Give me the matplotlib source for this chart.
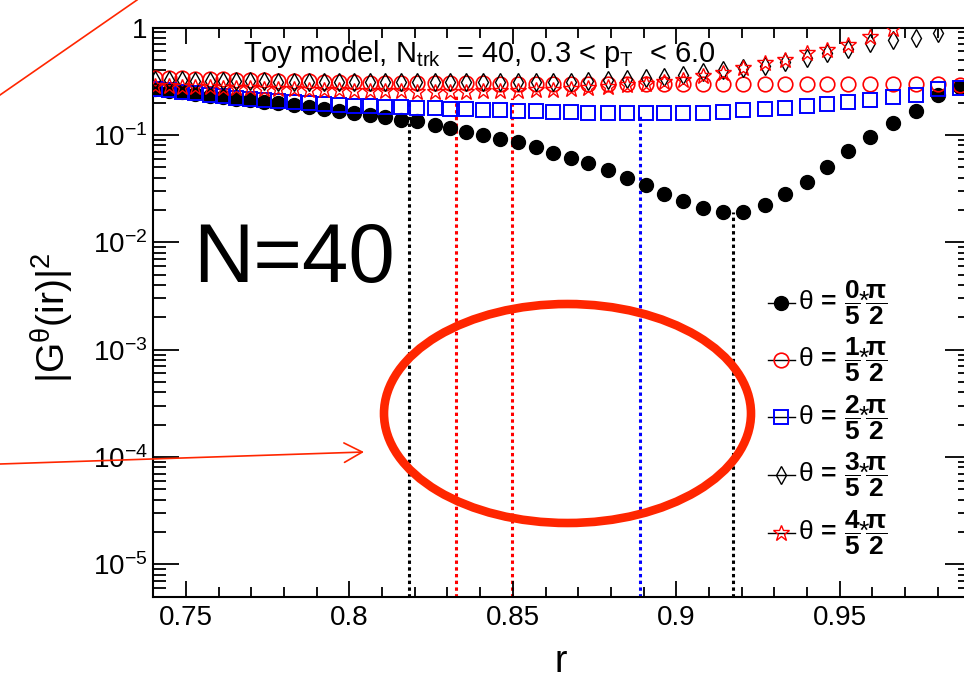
import numpy as np
import matplotlib

matplotlib.use("Agg")
import matplotlib.pyplot as plt
from matplotlib.lines import Line2D
from matplotlib.patches import Ellipse, FancyArrowPatch
from matplotlib.ticker import LogLocator, MultipleLocator, NullFormatter

plt.rcParams["font.family"] = ["Liberation Sans", "DejaVu Sans"]
plt.rcParams["mathtext.fontset"] = "custom"
plt.rcParams["mathtext.rm"] = "Liberation Sans"
plt.rcParams["mathtext.it"] = "Liberation Sans:italic"
plt.rcParams["mathtext.bf"] = "Liberation Sans:bold"
plt.rcParams["mathtext.default"] = "regular"

# radius values where |G(ir)|^2 was evaluated
r = [0.7406, 0.7447, 0.7488, 0.7528, 0.7572, 0.7613, 0.7654, 0.7697, 0.7740, 0.7783,
     0.7829, 0.7875, 0.7921, 0.7967, 0.8015, 0.8064, 0.8109, 0.8157, 0.8207, 0.8262,
     0.8308, 0.8356, 0.8410, 0.8461, 0.8517, 0.8571, 0.8624, 0.8677, 0.8731, 0.8792,
     0.8849, 0.8908, 0.8961, 0.9022, 0.9083, 0.9144, 0.9205, 0.9272, 0.9333, 0.9399,
     0.9460, 0.9526, 0.9593, 0.9664, 0.9733, 0.9802, 0.9868]

g_theta0 = [0.268, 0.257, 0.252, 0.241, 0.231, 0.226, 0.216, 0.212, 0.203, 0.197,
            0.190, 0.182, 0.175, 0.167, 0.160, 0.154, 0.146, 0.139, 0.135, 0.124,
            0.115, 0.107, 0.0989, 0.0912, 0.0861, 0.0765, 0.0679, 0.0610, 0.0543, 0.0469,
            0.0399, 0.0342, 0.0284, 0.0242, 0.0207, 0.0191, 0.0191, 0.0223, 0.0282, 0.0365,
            0.0504, 0.0705, 0.0964, 0.130, 0.168, 0.236, 0.280]

g_theta1 = [0.340, 0.338, 0.336, 0.333, 0.331, 0.329, 0.326, 0.324, 0.322, 0.319,
            0.317, 0.315, 0.312, 0.310, 0.308, 0.305, 0.304, 0.303, 0.302, 0.302,
            0.301, 0.301, 0.301, 0.300, 0.300, 0.300, 0.300, 0.300, 0.300, 0.300,
            0.300, 0.300, 0.300, 0.300, 0.300, 0.300, 0.300, 0.300, 0.300, 0.300,
            0.300, 0.300, 0.299, 0.298, 0.297, 0.295, 0.293]

g_theta2 = [0.268, 0.260, 0.252, 0.2435, 0.236, 0.2285, 0.221, 0.2165, 0.2097, 0.2052,
            0.2009, 0.1966, 0.1925, 0.1883, 0.1863, 0.1843, 0.1824, 0.1804, 0.1785, 0.1766,
            0.1747, 0.1728, 0.171, 0.1691, 0.1673, 0.1656, 0.1638, 0.1621, 0.1603, 0.1586,
            0.1586, 0.1586, 0.1586, 0.1586, 0.1593, 0.1638, 0.1691, 0.1728, 0.1774, 0.1863,
            0.1945, 0.2009, 0.2119, 0.2246, 0.236, 0.2655, 0.274]

# the two largest angles leave the frame (>1) at the high-r end
g_theta3 = [0.326, 0.324, 0.322, 0.320, 0.319, 0.319, 0.317, 0.315, 0.315, 0.314,
            0.312, 0.312, 0.312, 0.311, 0.311, 0.308, 0.308, 0.308, 0.308, 0.308,
            0.308, 0.310, 0.311, 0.312, 0.312, 0.312, 0.313, 0.314, 0.318, 0.322,
            0.328, 0.338, 0.347, 0.362, 0.386, 0.400, 0.418, 0.440, 0.479, 0.522,
            0.581, 0.633, 0.720, 0.768, 0.797, 0.892]

g_theta4 = [0.286, 0.283, 0.280, 0.280, 0.277, 0.274, 0.274, 0.271, 0.268, 0.268,
            0.266, 0.263, 0.263, 0.260, 0.257, 0.257, 0.254, 0.254, 0.252, 0.252,
            0.252, 0.252, 0.254, 0.257, 0.257, 0.260, 0.263, 0.268, 0.272, 0.280,
            0.292, 0.299, 0.312, 0.326, 0.355, 0.378, 0.418, 0.466, 0.500, 0.577,
            0.620, 0.690, 0.819, 0.962]

# first minimum markers: position, colour and height of each dotted line
zero_r = [0.8183, 0.8326, 0.8498, 0.8890, 0.9173]
zero_colors = ["black", "red", "red", "blue", "black"]
zero_tops = [0.20, 0.23, 0.22, 0.159, 0.0191]

xtick_vals = [0.75, 0.80, 0.85, 0.90, 0.95]
xtick_labels = ["0.75", "0.8", "0.85", "0.9", "0.95"]
ytick_vals = [1e-5, 1e-4, 1e-3, 1e-2, 1e-1, 1.0]
ytick_labels = [r"$10^{-5}$", r"$10^{-4}$", r"$10^{-3}$", r"$10^{-2}$", r"$10^{-1}$", "1"]

legend_labels = [
    r"$\theta\,{\mathbf{=}}\,\dfrac{\mathbf{%d}}{\mathbf{5}}\!{*}\!\dfrac{\mathbf{\pi}}{\mathbf{2}}$" % k
    for k in range(5)
]

W, H = 964, 682
fig = plt.figure(figsize=(W / 100, H / 100), dpi=100)
# frame in pixel terms: x 153..970 (right edge falls just off the canvas), y 27..597
ax = fig.add_axes([153.3 / W, 1 - 596.7 / H, (970.5 - 153.3) / W, (596.7 - 27.5) / H])
ax.set_yscale("log")
ax.set_xlim(0.74, 0.99)
ax.set_ylim(5e-6, 1.0)

for x, c, top in zip(zero_r, zero_colors, zero_tops):
    ax.plot([x, x], [5e-6, top], color=c, lw=2.2, ls=(0, (1.1, 1.1)), zorder=1)

styles = [
    dict(marker="o", ms=10, mfc="black", mec="black", mew=1.0),
    dict(marker="o", ms=10.5, mfc="none", mec="red", mew=1.2),
    dict(marker="s", ms=10.5, mfc="none", mec="blue", mew=1.4),
    dict(marker="d", ms=9, mfc="none", mec="black", mew=1.0),
    dict(marker="*", ms=12, mfc="none", mec="red", mew=1.0),
]
series = [g_theta0, g_theta1, g_theta2, g_theta3, g_theta4]
for vals, st in zip(series, styles):
    ax.plot(r[:len(vals)], vals, ls="none", zorder=3, **st)

ax.set_xticks(xtick_vals, labels=xtick_labels)
ax.xaxis.set_minor_locator(MultipleLocator(0.01))
ax.set_yticks(ytick_vals, labels=ytick_labels)
ax.yaxis.set_minor_locator(LogLocator(base=10, subs=np.arange(2, 10), numticks=30))
ax.yaxis.set_minor_formatter(NullFormatter())

ax.tick_params(which="both", direction="in", top=True, right=True, width=1.3, labelsize=20)
ax.tick_params(axis="x", which="major", length=11.5, pad=6)
ax.tick_params(axis="x", which="minor", length=7)
ax.tick_params(axis="y", which="major", length=18.5, pad=4)
ax.tick_params(axis="y", which="minor", length=9.5)
for sp in ax.spines.values():
    sp.set_linewidth(1.5)

ax.set_xlabel("r", fontsize=27)
ax.xaxis.set_label_coords(0.498, -0.083)
ax.set_ylabel(r"$|G^{\theta}(ir)|^{2}$", fontsize=28)
ax.yaxis.set_label_coords(-0.094, 0.49)

# legend: short black line with the series marker, label to the right
leg_y = [0.516, 0.416, 0.315, 0.214, 0.112]
for y, st, lab in zip(leg_y, styles, legend_labels):
    ax.plot([0.752, 0.785], [y, y], color="black", lw=1.0, transform=ax.transAxes, zorder=4)
    ax.plot([0.7687], [y], transform=ax.transAxes, zorder=5, **st)
    ax.text(0.789, y, lab, transform=ax.transAxes, fontsize=19, va="center", ha="left")

fig.text(243 / W, 1 - 62 / H, r"Toy model, N$_{trk}$  = 40, 0.3 < p$_{T}$  < 6.0",
         fontsize=21, va="baseline")
fig.text(193 / W, 1 - 282 / H, "N=40", fontsize=60, va="baseline")

mark = "#ff2600"
fig.add_artist(Line2D([0, 137 / W], [1 - 95 / H, 1.0], transform=fig.transFigure,
                      color=mark, lw=1.2))
fig.add_artist(FancyArrowPatch((0, 1 - 464 / H), (364 / W, 1 - 452 / H),
                               transform=fig.transFigure, color=mark, lw=1.2,
                               arrowstyle="->,head_length=0.65,head_width=0.35",
                               mutation_scale=20, shrinkA=0, shrinkB=0))
fig.add_artist(Ellipse((567.5 / W, 1 - 413.5 / H), 367 / W, 219 / H,
                       transform=fig.transFigure, fill=False, edgecolor=mark, lw=6.2))

fig.savefig("out.png", dpi=100)
